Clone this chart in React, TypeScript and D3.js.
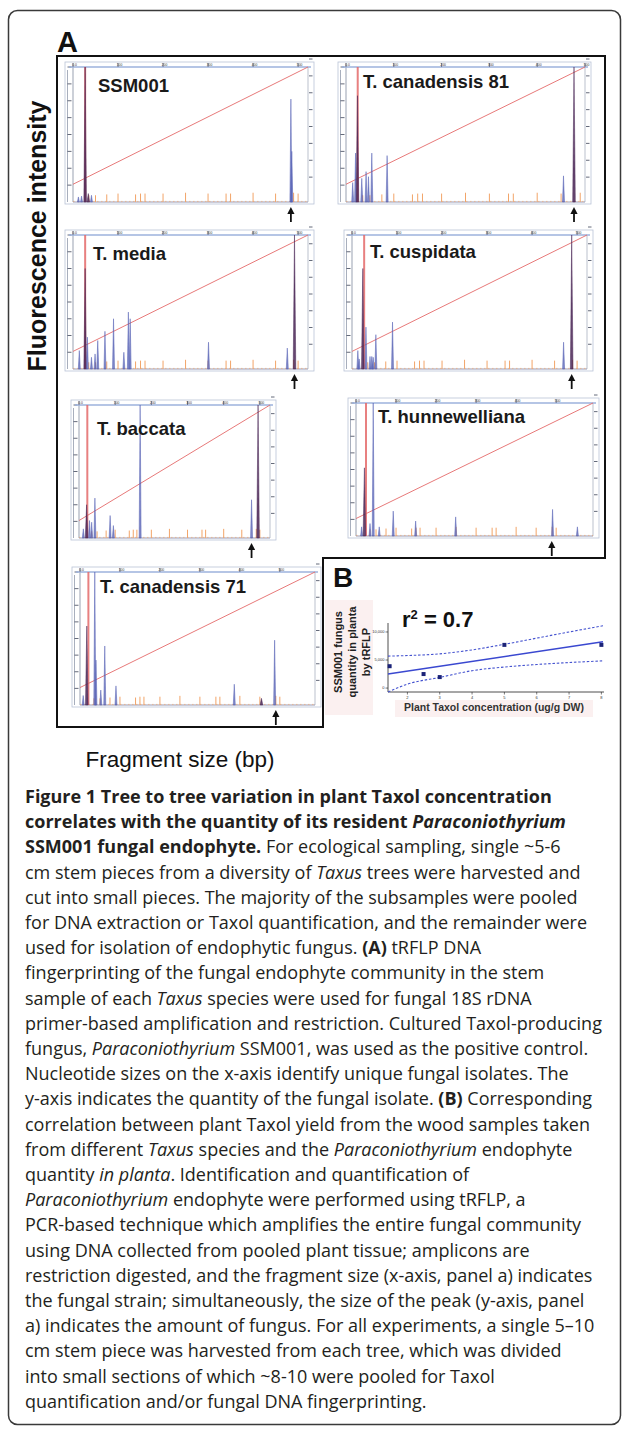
import React from 'react';
import * as d3 from 'd3';

// GeneScan size standard peaks (orange), shared by every trace
const SIZE_STANDARD_BP = [35, 50, 75, 100, 139, 150, 160, 200, 250, 300, 340, 350, 400, 450, 490, 500];
const SIZE_STANDARD_HEIGHT = [0.4, 0.4, 0.45, 0.5, 0.45, 0.5, 0.5, 0.5, 0.55, 0.5, 0.5, 0.5, 0.55, 0.5, 0.55, 0.5];

// sample peaks: [fragment size bp, intensity, channel] (0 = blue sample, 1 = dark overlay)
const ssm001Peaks = [[12, 0.3, 0], [19, 0.35, 0], [27, 8.5, 1], [34, 0.5, 1], [41, 0.4, 0], [484, 6.1, 0], [486, 3.0, 0]];
const canadensis81Peaks = [[14, 1.15, 0], [20, 2.9, 0], [24, 6.3, 1], [33, 1.4, 0], [42, 1.8, 0], [47, 1.5, 0], [54, 2.9, 0], [86, 2.75, 0], [455, 1.55, 0], [477, 9, 1]];
const mediaPeaks = [[14, 1.1, 0], [27, 6.0, 1], [32, 1.9, 0], [41, 0.7, 0], [49, 0.9, 0], [55, 1.7, 0], [71, 2.25, 0], [90, 3.0, 0], [113, 1.0, 0], [123, 3.4, 0], [127, 3.0, 0], [301, 1.6, 0], [476, 1.25, 0], [492, 9, 1]];
const cuspidataPeaks = [[13, 1.1, 0], [16, 0.6, 0], [24, 6.0, 1], [31, 2.5, 0], [40, 0.75, 0], [44, 0.75, 0], [47, 0.7, 0], [53, 2.05, 0], [90, 2.8, 0], [470, 1.6, 0], [488, 9, 1]];
const baccataPeaks = [[12, 0.55, 0], [21, 2.0, 1], [29, 1.05, 0], [35, 0.95, 0], [44, 2.4, 0], [86, 1.35, 0], [95, 0.75, 0], [169, 9, 0], [477, 2.3, 0], [495, 9, 1]];
const hunnewellianaPeaks = [[14, 0.55, 0], [21, 4.1, 1], [35, 0.75, 0], [43, 9, 0], [58, 0.55, 0], [93, 1.5, 0], [149, 0.9, 0], [249, 1.15, 0], [491, 1.6, 0], [553, 0.55, 0]];
const canadensis71Peaks = [[8, 0.57, 0], [17, 4.75, 1], [37, 9, 0], [40, 2.7, 0], [52, 0.9, 0], [62, 3.55, 0], [90, 1.15, 0], [386, 1.25, 0], [454, 0.4, 1], [487, 3.9, 0]];

const PANEL_NAMES = ['SSM001', 'T. canadensis 81', 'T. media', 'T. cuspidata', 'T. baccata', 'T. hunnewelliana', 'T. canadensis 71'];
const PANEL_PEAKS = [ssm001Peaks, canadensis81Peaks, mediaPeaks, cuspidataPeaks, baccataPeaks, hunnewellianaPeaks, canadensis71Peaks];
const PRIMER_BP = [27, 24.5, 27, 27, 23, 25, 21];
const ARROW_BP = [484, 477, 492, 488, 477, 489, 490];
const BP_MAX = [522, 500, 522, 522, 528, 592, 588];
const BP_TICKS = [0, 100, 200, 300, 400, 500];
const INTENSITY_TICKS = [1, 2, 3, 4, 5, 6, 7, 8];

// panel B
const taxolConc = [1.45, 2.5, 3.0, 5.0, 8.0];
const fungusQty = [3900, 2500, 1960, 7700, 7700];
const bandX = [1.4, 2, 3, 4, 5, 6, 7, 8.05];
const bandUpper = [5700, 5800, 6100, 6800, 7800, 8900, 10000, 11100];
const bandLower = [-700, 700, 1900, 3100, 3750, 4200, 4550, 4850];
const xTicksB = [2, 3, 4, 5, 6, 7, 8];
const yTicksB = [0, 5000, 10000];

type Seg = [string, string];
const CAPTION: Seg[][] = [
  [['Figure 1 Tree to tree variation in plant Taxol concentration', 'b']],
  [['correlates with the quantity of its resident ', 'b'], ['Paraconiothyrium', 'bi']],
  [['SSM001 fungal endophyte.', 'b'], [' For ecological sampling, single ~5-6', 'r']],
  [['cm stem pieces from a diversity of ', 'r'], ['Taxus', 'i'], [' trees were harvested and', 'r']],
  [['cut into small pieces. The majority of the subsamples were pooled', 'r']],
  [['for DNA extraction or Taxol quantification, and the remainder were', 'r']],
  [['used for isolation of endophytic fungus. ', 'r'], ['(A)', 'b'], [' tRFLP DNA', 'r']],
  [['fingerprinting of the fungal endophyte community in the stem', 'r']],
  [['sample of each ', 'r'], ['Taxus', 'i'], [' species were used for fungal 18S rDNA', 'r']],
  [['primer-based amplification and restriction. Cultured Taxol-producing', 'r']],
  [['fungus, ', 'r'], ['Paraconiothyrium', 'i'], [' SSM001, was used as the positive control.', 'r']],
  [['Nucleotide sizes on the x-axis identify unique fungal isolates. The', 'r']],
  [['y-axis indicates the quantity of the fungal isolate. ', 'r'], ['(B)', 'b'], [' Corresponding', 'r']],
  [['correlation between plant Taxol yield from the wood samples taken', 'r']],
  [['from different ', 'r'], ['Taxus', 'i'], [' species and the ', 'r'], ['Paraconiothyrium', 'i'], [' endophyte', 'r']],
  [['quantity ', 'r'], ['in planta', 'i'], ['. Identification and quantification of', 'r']],
  [['Paraconiothyrium', 'i'], [' endophyte were performed using tRFLP, a', 'r']],
  [['PCR-based technique which amplifies the entire fungal community', 'r']],
  [['using DNA collected from pooled plant tissue; amplicons are', 'r']],
  [['restriction digested, and the fragment size (x-axis, panel a) indicates', 'r']],
  [['the fungal strain; simultaneously, the size of the peak (y-axis, panel', 'r']],
  [['a) indicates the amount of fungus. For all experiments, a single 5–10', 'r']],
  [['cm stem piece was harvested from each tree, which was divided', 'r']],
  [['into small sections of which ~8-10 were pooled for Taxol', 'r']],
  [['quantification and/or fungal DNA fingerprinting.', 'r']],
];

// layout of the seven electropherograms
const BOXES = [
  { left: 73, right: 308, top: 67, base: 202, lx: 98, ly: 92 },
  { left: 346, right: 585, top: 67, base: 202, lx: 363, ly: 88 },
  { left: 73, right: 308, top: 235, base: 369, lx: 93, ly: 260 },
  { left: 352, right: 587, top: 235, base: 369, lx: 370, ly: 258 },
  { left: 79, right: 270, top: 405, base: 538, lx: 97, ly: 435 },
  { left: 356, right: 593, top: 403, base: 536, lx: 378, ly: 423 },
  { left: 80, right: 315, top: 572, base: 705, lx: 100, ly: 593 },
];

const ARIAL = "'Liberation Sans', Arial, Helvetica, sans-serif";
const BLUE = '#5560b4';
const DARK = '#4a2656';
const RED = '#e46a6a';
const ORANGE = '#f2a468';
const FRAME = '#b9c3d6';

const Trace: React.FC<{ i: number }> = ({ i }) => {
  const b = BOXES[i];
  const x = d3.scaleLinear().domain([0, BP_MAX[i]]).range([b.left, b.right]);
  const y = d3.scaleLinear().domain([0, 8]).range([b.base, b.top]).clamp(true);
  const spike = (bp: number, h: number, w = 1.1) =>
    `M${x(bp) - w},${b.base}L${x(bp)},${y(h)}L${x(bp) + w},${b.base}Z`;
  const boxL = b.left - 8;
  const boxR = b.right + 6;
  const boxT = b.top - 5;
  const diag = d3.line<[number, number]>().x(d => x(d[0])).y(d => y(d[1]));
  const ax = x(ARROW_BP[i]);

  return (
    <g>
      <rect x={boxL} y={boxT} width={boxR - boxL} height={b.base + 2 - boxT} fill="#fff" stroke={FRAME} strokeWidth={0.8} />
      {/* left ladder */}
      <line x1={boxL + 2.5} x2={boxL + 2.5} y1={b.top + 3} y2={b.base} stroke="#6d7890" strokeWidth={0.6} />
      <line x1={b.left} x2={b.left} y1={b.top} y2={b.base} stroke="#6d7890" strokeWidth={0.7} />
      {INTENSITY_TICKS.map(t => (
        <line key={'l' + t} x1={boxL + 2.5} x2={boxL + 6.5} y1={y(t)} y2={y(t)} stroke="#3c4458" strokeWidth={0.8} />
      ))}
      {/* right ticks */}
      <line x1={b.right} x2={b.right} y1={b.top} y2={b.base} stroke="#8d97ab" strokeWidth={0.6} />
      {INTENSITY_TICKS.map(t => (
        <line key={'r' + t} x1={b.right + 1} x2={b.right + 4.5} y1={y(t) - 8} y2={y(t) - 8} stroke="#3c4458" strokeWidth={0.8} />
      ))}
      {/* top axis */}
      <line x1={boxL + 4} x2={boxR - 3} y1={b.top} y2={b.top} stroke="#9cb2dc" strokeWidth={1.4} />
      {BP_TICKS.map(t => (
        <g key={'t' + t}>
          <line x1={x(t)} x2={x(t)} y1={boxT + 1} y2={b.top} stroke="#56607a" strokeWidth={0.8} />
          <text x={x(t) + 1.5} y={b.top - 1.2} fontSize={3.4} fontFamily={ARIAL} fill="#3a3a3a" textAnchor="middle">
            {t === 0 ? '0.0' : t}
          </text>
        </g>
      ))}
      {/* baseline */}
      <line x1={b.left} x2={b.right} y1={b.base} y2={b.base} stroke="#8c8ca8" strokeWidth={0.9} />
      <line x1={b.left} x2={b.right} y1={b.base - 0.6} y2={b.base - 0.6} stroke={ORANGE} strokeWidth={0.6} strokeDasharray="1.5,2.5" />
      {/* size standard */}
      {SIZE_STANDARD_BP.filter(bp => bp < BP_MAX[i]).map((bp, k) => (
        <line key={'s' + bp} x1={x(bp)} x2={x(bp)} y1={b.base} y2={y(SIZE_STANDARD_HEIGHT[k])} stroke={ORANGE} strokeWidth={1} />
      ))}
      {/* calibration curve */}
      <path d={diag([[0, 1.05], [BP_MAX[i], 8]]) || ''} fill="none" stroke={RED} strokeWidth={0.9} />
      {/* primer */}
      <line x1={x(PRIMER_BP[i])} x2={x(PRIMER_BP[i])} y1={b.top} y2={b.base} stroke={RED} strokeWidth={2} opacity={0.85} />
      {/* sample peaks */}
      {PANEL_PEAKS[i].map(([bp, h, c], k) => (
        <path key={'p' + k} d={spike(bp, h, c === 1 ? 1.3 : 1.0)} fill={c === 1 ? DARK : BLUE} fillOpacity={c === 1 ? 0.85 : 0.75}
          stroke={c === 1 ? DARK : BLUE} strokeWidth={0.5} />
      ))}
      <text x={b.lx} y={b.ly} fontSize={18.5} fontWeight="bold" fontFamily={ARIAL} fill="#1a1a1a">{PANEL_NAMES[i]}</text>
      {/* arrow to the SSM001 fragment */}
      <line x1={ax} x2={ax} y1={b.base + 20} y2={b.base + 10} stroke="#111" strokeWidth={1.8} />
      <path d={`M${ax - 3.6},${b.base + 12}L${ax},${b.base + 5}L${ax + 3.6},${b.base + 12}Z`} fill="#111" />
    </g>
  );
};

const PanelB: React.FC = () => {
  const x = d3.scaleLinear().domain([1.4, 8.05]).range([388, 603]);
  const y = d3.scaleLinear().domain([-700, 11600]).range([692, 623]);
  const mx = d3.mean(taxolConc) as number;
  const my = d3.mean(fungusQty) as number;
  const slope = d3.sum(taxolConc, (v, k) => (v - mx) * (fungusQty[k] - my)) / d3.sum(taxolConc, v => (v - mx) * (v - mx));
  const icpt = my - slope * mx;
  const band = d3.line<number>().x((_, k) => x(bandX[k])).curve(d3.curveMonotoneX);

  return (
    <g fontFamily={ARIAL}>
      <rect x={325} y={600} width={48} height={115} fill="#fbf0f0" />
      <rect x={395} y={700} width={198} height={17} fill="#fbf0f0" />
      <text x={333} y={587} fontSize={28} fontWeight="bold" fill="#111">B</text>
      <g transform="translate(352,652) rotate(-90)" fontSize={11} fontWeight="bold" fill="#222" textAnchor="middle">
        <text y={-10}>SSM001 fungus</text>
        <text y={4}>quantity in planta</text>
        <text y={18}>by tRFLP</text>
      </g>
      <text x={402} y={627} fontSize={22} fontWeight="bold" fill="#111">
        r<tspan fontSize={13} dy={-8}>2</tspan><tspan dy={8}> = 0.7</tspan>
      </text>
      {/* axes */}
      <line x1={388} x2={388} y1={623} y2={692} stroke="#222" strokeWidth={0.8} />
      <line x1={388} x2={604} y1={692} y2={692} stroke="#222" strokeWidth={0.8} />
      {yTicksB.map(t => (
        <g key={'y' + t}>
          <line x1={385.5} x2={388} y1={y(t)} y2={y(t)} stroke="#222" strokeWidth={0.6} />
          <text x={384.5} y={y(t) + 1.3} fontSize={4} textAnchor="end" fill="#333">{d3.format(',')(t)}</text>
        </g>
      ))}
      {xTicksB.map(t => (
        <g key={'x' + t}>
          <line x1={x(t)} x2={x(t)} y1={692} y2={694.5} stroke="#222" strokeWidth={0.6} />
          <text x={x(t)} y={699} fontSize={4} textAnchor="middle" fill="#333">{t}</text>
        </g>
      ))}
      <text x={494} y={711} fontSize={10.5} fontWeight="bold" textAnchor="middle" fill="#333">Plant Taxol concentration (ug/g DW)</text>
      {/* fit and confidence band */}
      <path d={band.y(v => y(v))(bandUpper) || ''} fill="none" stroke="#4654d0" strokeWidth={1.1} strokeDasharray="2.5,1.8" />
      <path d={band.y(v => y(v))(bandLower) || ''} fill="none" stroke="#4654d0" strokeWidth={1.1} strokeDasharray="2.5,1.8" />
      <line x1={x(1.4)} x2={x(8.05)} y1={y(icpt + slope * 1.4)} y2={y(icpt + slope * 8.05)} stroke="#3a48d0" strokeWidth={1.4} />
      {taxolConc.map((v, k) => (
        <rect key={'pt' + k} x={x(v) - 2} y={y(fungusQty[k]) - 2} width={4} height={4} fill="#1b2378" />
      ))}
    </g>
  );
};

const App: React.FC = () => {
  const styleOf = (s: string): React.CSSProperties => ({
    fontWeight: s.includes('b') ? 'bold' : 'normal',
    fontStyle: s.includes('i') ? 'italic' : 'normal',
  });
  return (
    <svg width={629} height={1437} viewBox="0 0 629 1437" style={{ position: 'absolute', left: 0, top: 0, background: '#fff' }}>
      <rect x={0} y={0} width={629} height={1437} fill="#fff" />
      <rect x={8.5} y={10.5} width={612} height={1414} rx={9} fill="none" stroke="#3a3a3a" strokeWidth={1.5} />
      <text x={57} y={52} fontSize={29} fontWeight="bold" fontFamily={ARIAL} fill="#111">A</text>
      <path d="M57,56H605V558H323V727H57Z" fill="none" stroke="#111" strokeWidth={2} />
      {BOXES.map((_, i) => <Trace key={i} i={i} />)}
      <PanelB />
      <text transform="translate(46,236) rotate(-90)" fontSize={25} fontWeight="bold" fontFamily={ARIAL} textAnchor="middle" fill="#111">
        Fluorescence intensity
      </text>
      <text x={180} y={767} fontSize={22.5} fontFamily={ARIAL} textAnchor="middle" fill="#111">Fragment size (bp)</text>
      <g fontFamily="'Open Sans', 'Noto Sans', sans-serif" fontSize={18} fill="#231f20">
        {CAPTION.map((line, k) => (
          <text key={k} x={25} y={803 + k * 25.2} style={{ whiteSpace: 'pre' }}>
            {line.map(([t, s], j) => <tspan key={j} style={styleOf(s)}>{t}</tspan>)}
          </text>
        ))}
      </g>
    </svg>
  );
};

export default App;
